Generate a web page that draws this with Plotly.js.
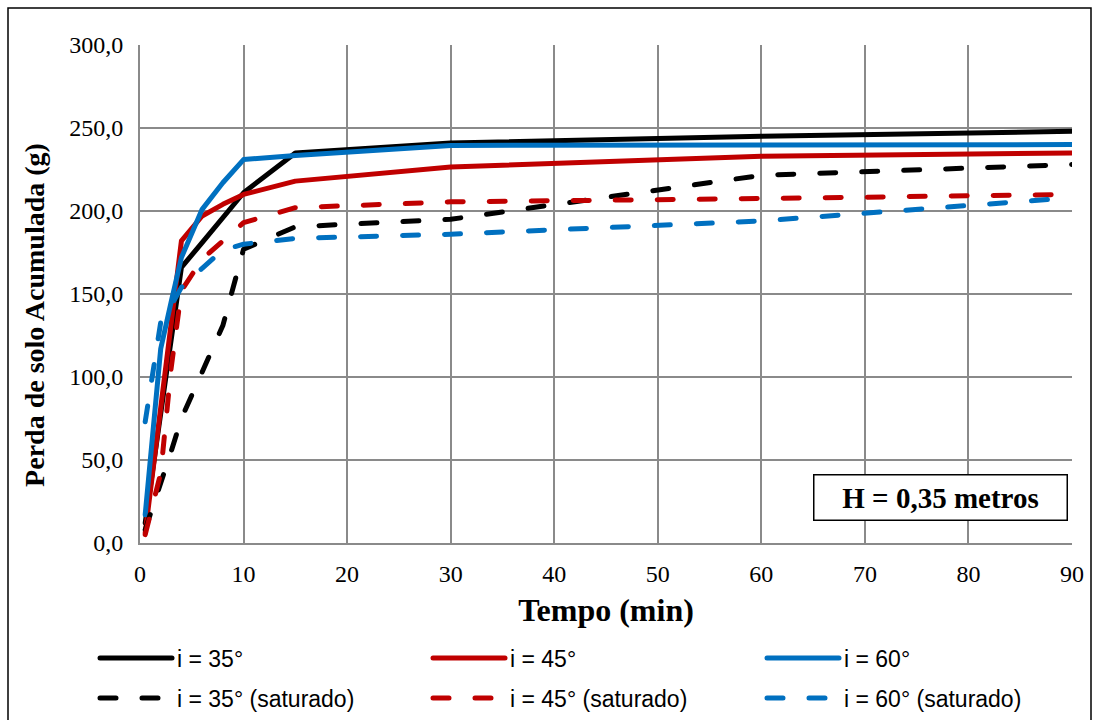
<!DOCTYPE html>
<html>
<head>
<meta charset="utf-8">
<script src="https://cdn.plot.ly/plotly-3.0.1.min.js"></script>
<style>
html, body { margin: 0; padding: 0; background: #ffffff; }
#chart { width: 1096px; height: 720px; }
.js-line { stroke-linecap: round !important; stroke-linejoin: round !important; }
</style>
</head>
<body>
<div id="chart"></div>
<script>
// ---- data ----
const tempo = [0.5, 2, 3, 4, 6, 8, 10, 15, 30, 60, 90];          // min
const i35 = [12, 78, 122, 166, 181, 196, 211, 235, 241, 245, 248];
const i45 = [6, 80, 129, 182, 197, 204, 210, 218, 226.5, 233, 235];
const i60 = [17, 117, 145, 172, 201, 217, 231, 233.5, 239.5, 240, 240];
const i35sat = [8, 35, 55, 75, 103, 131, 177, 190.5, 195, 221.5, 228];
const i45sat = [5, 42, 105, 152, 171, 182.5, 193, 202, 205.5, 207.5, 210];
const i60sat = [73, 133, 143, 154, 165.5, 176.5, 180, 183.5, 186, 194, 208];

const seriesNames = ['i = 35°', 'i = 45°', 'i = 60°',
                     'i = 35° (saturado)', 'i = 45° (saturado)', 'i = 60° (saturado)'];
const xTicks = [0, 10, 20, 30, 40, 50, 60, 70, 80, 90];
const xTickText = ['0', '10', '20', '30', '40', '50', '60', '70', '80', '90'];
const yTicks = [0, 50, 100, 150, 200, 250, 300];
const yTickText = ['0,0', '50,0', '100,0', '150,0', '200,0', '250,0', '300,0'];
const xTitle = 'Tempo (min)';
const yTitle = 'Perda de solo Acumulada (g)';
const boxLabel = 'H = 0,35 metros';

// ---- styling ----
const colors = ['#000000', '#C00000', '#0070C0'];
const LW = 5;
const dashPattern = '16px,26px';
const W = 1096, H = 720;

// one legend per entry so the 2x3 grid can be placed like the reference
const legendIds = ['legend', 'legend2', 'legend3', 'legend4', 'legend5', 'legend6'];
const legendX = [95, 428, 762];      // px, column starts
const legendY = [658, 698];          // px, row centres

function mk(y, idx, sat) {
  const k = idx + (sat ? 3 : 0);
  return {
    type: 'scatter', mode: 'lines', x: tempo, y: y,
    name: seriesNames[k],
    line: { color: colors[idx], width: LW, dash: sat ? dashPattern : 'solid' },
    legend: legendIds[k],
    hoverinfo: 'skip'
  };
}

const data = [
  mk(i35, 0, false), mk(i45, 1, false), mk(i60, 2, false),
  mk(i35sat, 0, true), mk(i45sat, 1, true), mk(i60sat, 2, true)
];

const serif = 'Liberation Serif, Times New Roman, serif';
const legendFont = { family: 'Liberation Sans, Arial, sans-serif', size: 23, color: '#000' };
const gridCol = '#8a8a8a';

// pixel helpers for paper coords (plot area: x 140..1072, y 45..543)
const L = 140, R = 1072, T = 45, B = 543;
const px = X => (X - L) / (R - L);
const py = Y => (B - Y) / (B - T);

const layout = {
  width: W, height: H,
  margin: { l: L, r: W - R, t: T, b: H - B, pad: 0 },
  paper_bgcolor: '#ffffff', plot_bgcolor: '#ffffff',
  separators: ',.',
  showlegend: true,
  xaxis: {
    range: [0, 90], tickvals: xTicks, ticktext: xTickText,
    showgrid: true, gridcolor: gridCol, gridwidth: 2,
    showline: true, linecolor: gridCol, linewidth: 2,
    zeroline: false, ticks: '', ticklabelstandoff: 8,
    tickfont: { family: serif, size: 24, color: '#000' },
    title: { text: '<b>' + xTitle + '</b>', font: { family: serif, size: 32, color: '#000' }, standoff: 13 },
    automargin: false, fixedrange: true
  },
  yaxis: {
    range: [0, 300], tickvals: yTicks, ticktext: yTickText,
    showgrid: true, gridcolor: gridCol, gridwidth: 2,
    showline: true, linecolor: gridCol, linewidth: 2,
    zeroline: false, ticks: '', ticklabelstandoff: 10,
    tickfont: { family: serif, size: 24, color: '#000' },
    title: { text: '<b>' + yTitle + '</b>' + '&nbsp;'.repeat(6), font: { family: serif, size: 28, color: '#000' }, standoff: 16 },
    automargin: false, fixedrange: true
  },
  annotations: [{
    xref: 'paper', yref: 'paper', x: px(940), y: py(497.5), xanchor: 'center', yanchor: 'middle',
    text: '<b>' + boxLabel + '</b>', showarrow: false,
    font: { family: serif, size: 29, color: '#000' },
    width: 250, height: 42, align: 'center', valign: 'middle',
    bgcolor: '#ffffff', bordercolor: '#000000', borderwidth: 1.5, borderpad: 1
  }],
  shapes: [{
    type: 'rect', xref: 'paper', yref: 'paper', layer: 'below',
    x0: px(8), x1: px(1091), y0: py(740), y1: py(8),
    line: { color: '#000000', width: 1.5 }, fillcolor: 'rgba(0,0,0,0)'
  }]
};

legendIds.forEach((id, k) => {
  layout[id] = {
    orientation: 'h',
    xref: 'container', yref: 'container',
    x: legendX[k % 3] / W, xanchor: 'left',
    y: 1 - legendY[Math.floor(k / 3)] / H, yanchor: 'middle',
    itemwidth: 72,
    font: legendFont, bgcolor: 'rgba(0,0,0,0)', borderwidth: 0
  };
});

Plotly.newPlot('chart', data, layout, { displayModeBar: false, staticPlot: true });
</script>
</body>
</html>
